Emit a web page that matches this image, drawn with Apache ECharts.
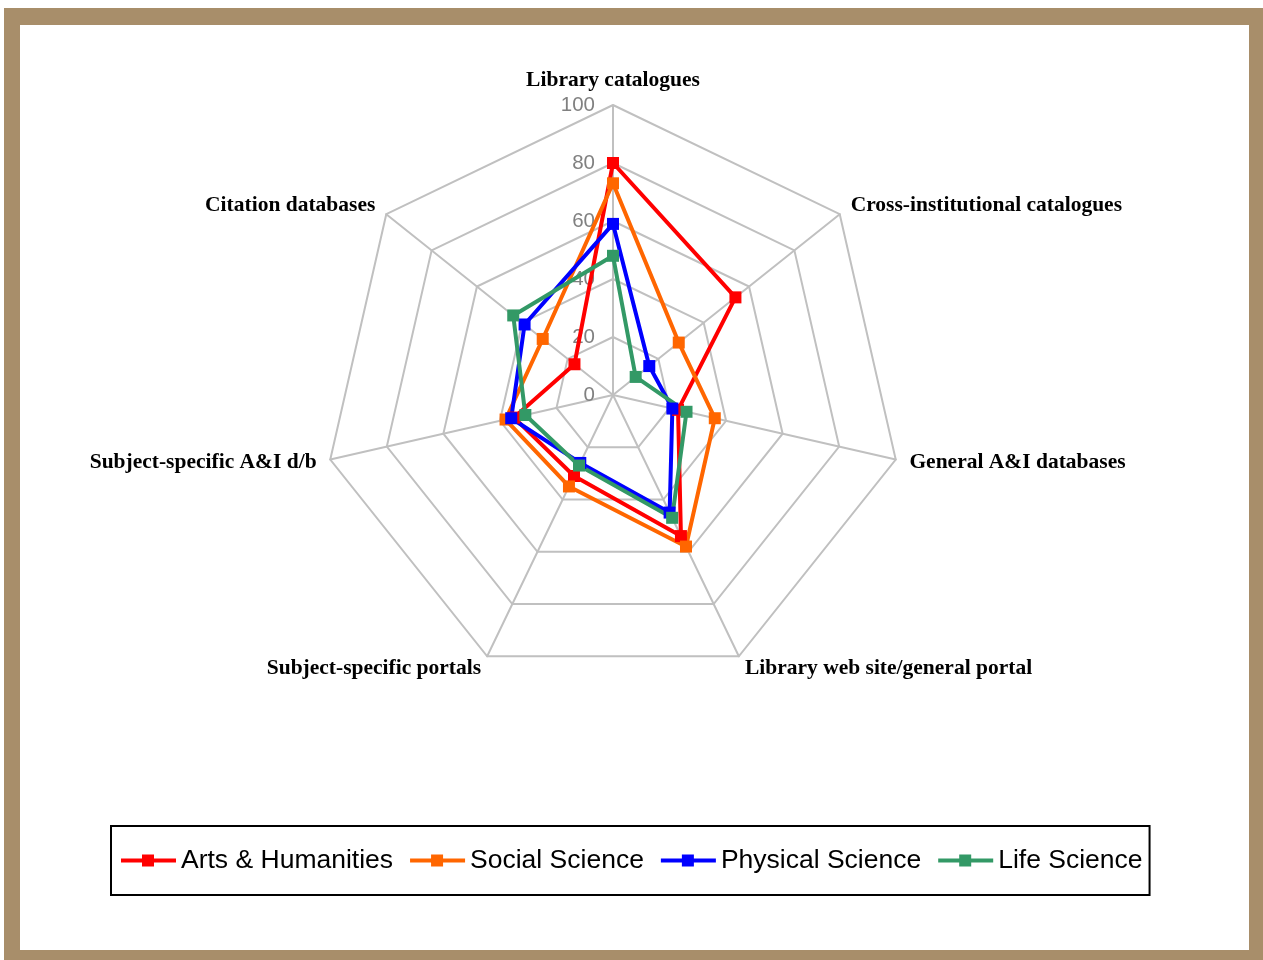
<!DOCTYPE html>
<html>
<head>
<meta charset="utf-8">
<script src="https://cdn.jsdelivr.net/npm/echarts@6/dist/echarts.min.js"></script>
<style>
  html, body { margin: 0; padding: 0; background: #fff; }
  #frame {
    position: absolute; left: 4px; top: 8px; width: 1259px; height: 952px;
    background: #A88E6A;
  }
  #inner {
    position: absolute; left: 16px; top: 17px; width: 1229px; height: 925px;
    background: #fff;
  }
  #radar-chart {
    position: absolute; left: 0; top: 0; width: 1263px; height: 960px;
  }
</style>
</head>
<body>
<div id="frame"><div id="inner"></div></div>
<div id="radar-chart"></div>
<script>
// indicators in echarts order (counter-clockwise from top)
var categories = [
  "Library catalogues",
  "Citation databases",
  "Subject-specific A&I d/b",
  "Subject-specific portals",
  "Library web site/general portal",
  "General A&I databases",
  "Cross-institutional catalogues"
];
var seriesNames = ["Arts & Humanities", "Social Science", "Physical Science", "Life Science"];
var artsData = [80, 17, 35, 31, 54, 23, 54];
var socialData = [73, 31, 38, 35, 58, 36, 29];
var physicalData = [59, 39, 36, 26, 45, 21, 16];
var lifeData = [48, 44, 31, 27, 47, 26, 10];
var colors = ["#FF0000", "#FF6600", "#0000FF", "#339966"];

var myChart = echarts.init(document.getElementById("radar-chart"));

var indicator = categories.map(function(name, i) {
  var item = { name: name, min: 0, max: 100 };
  if (i === 0) item.axisLabel = { show: true };
  return item;
});

// legend icon: line with a square in the middle
var lineIcon = "path://M0,4 L55,4 L55,8 L0,8 Z M21,0 L33,0 L33,12 L21,12 Z";

var allData = [artsData, socialData, physicalData, lifeData];
var series = [{
  type: "radar",
  symbol: "rect",
  symbolSize: 12,
  data: allData.map(function(vals, i) {
    return {
      name: seriesNames[i],
      value: vals,
      itemStyle: { color: colors[i] },
      lineStyle: { color: colors[i], width: 4 }
    };
  })
}];

myChart.setOption({
  animation: false,
  color: colors,
  legend: {
    left: 111,
    top: 826,
    padding: [21, 7, 21, 10],
    itemGap: 17,
    itemWidth: 55,
    itemHeight: 12,
    borderColor: "#000",
    borderWidth: 2,
    textStyle: { fontFamily: "Liberation Sans", fontSize: 26.5, color: "#000" },
    data: seriesNames.map(function(n) { return { name: n, icon: lineIcon }; })
  },
  radar: {
    center: [613, 395],
    radius: 290,
    startAngle: 90,
    shape: "polygon",
    splitNumber: 5,
    nameGap: 14,
    axisName: {
      color: "#000",
      fontFamily: "Liberation Serif",
      fontWeight: "bold",
      fontSize: 21.5
    },
    splitLine: { lineStyle: { color: "#C0C0C0", width: 2 } },
    splitArea: { show: false },
    axisLine: { lineStyle: { color: "#C0C0C0", width: 2 } },
    axisTick: { show: false },
    axisLabel: {
      show: false,
      color: "#808080",
      fontFamily: "Liberation Sans",
      fontSize: 20.5,
      align: "right",
      padding: [0, 18, 0, 0],
      margin: 0
    },
    indicator: indicator
  },
  series: series
});
</script>
</body>
</html>
